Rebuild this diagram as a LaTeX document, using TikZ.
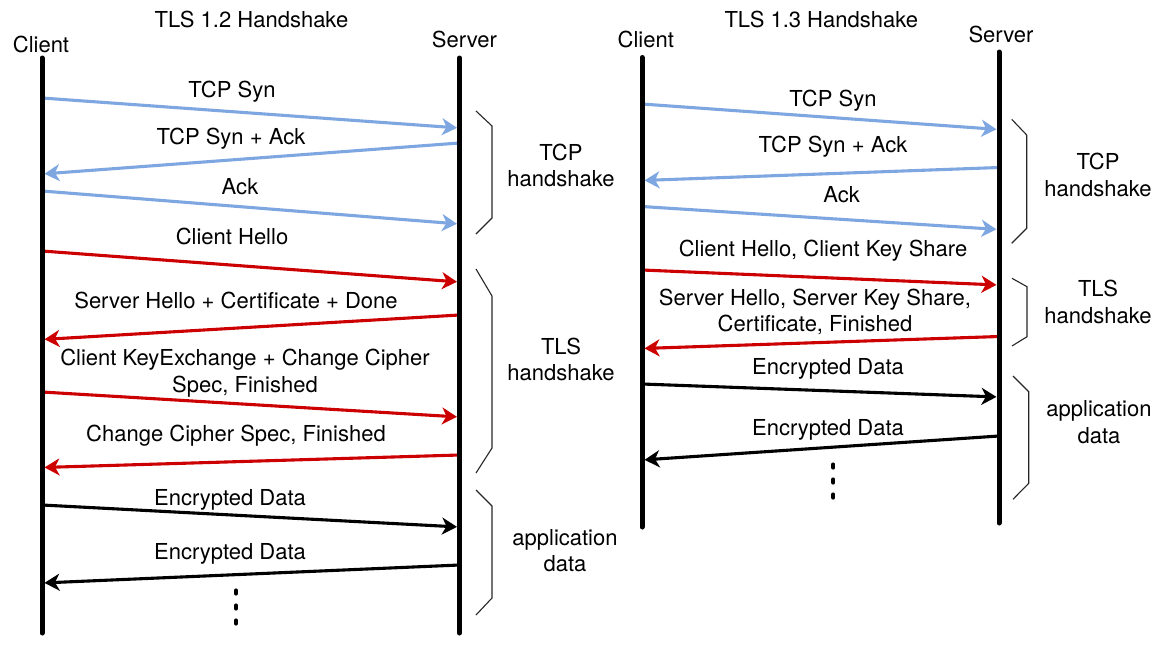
\documentclass[tikz,border=0pt]{standalone}
\usepackage{fontspec}
\setmainfont{TeX Gyre Heros}
\usetikzlibrary{arrows.meta}
\definecolor{tcpblue}{HTML}{7EA6E0}
\definecolor{tlsred}{HTML}{CC0000}
\begin{document}
\begin{tikzpicture}[x=1pt,y=-1pt,
  lifeline/.style={line width=5pt, line cap=round},
  msg/.style={line width=3.1pt, -{Stealth[length=15pt,width=17pt,inset=4.5pt]}, shorten >=2.5pt},
  tcpmsg/.style={msg, draw=tcpblue},
  tlsmsg/.style={msg, draw=tlsred},
  datamsg/.style={msg, draw=black},
  lbl/.style={font=\fontsize{22}{26.7}\selectfont, inner sep=0pt, anchor=base, align=center},
  bracepath/.style={line width=1.1pt, draw=black!85},
  dotline/.style={line width=4.2pt, line cap=round, dash pattern=on 3pt off 12pt}
]
\useasboundingbox (0,0) rectangle (1171,654);

% ---------------- TLS 1.2 ----------------
\node[lbl] (t12) at (251.5,27) {TLS 1.2 Handshake};
\node[lbl] (c12) at (41,52) {Client};
\node[lbl] (s12) at (464.5,47) {Server};
\coordinate (c12top) at (42,58);   \coordinate (c12bot) at (42,633);
\coordinate (s12top) at (459.5,58);\coordinate (s12bot) at (459.5,633);

\coordinate (a1c) at (42,98);    \coordinate (a1s) at (459.5,128);
\coordinate (a2s) at (459.5,143);\coordinate (a2c) at (42,174);
\coordinate (a3c) at (42,191);   \coordinate (a3s) at (459.5,224);
\coordinate (a4c) at (42,251);   \coordinate (a4s) at (459.5,282);
\coordinate (a5s) at (459.5,315);\coordinate (a5c) at (42,339.5);
\coordinate (a6c) at (42,392);   \coordinate (a6s) at (459.5,417);
\coordinate (a7s) at (459.5,455);\coordinate (a7c) at (42,467.5);
\coordinate (a8c) at (42,505);   \coordinate (a8s) at (459.5,527);
\coordinate (a9s) at (459.5,565);\coordinate (a9c) at (42,583);

\draw[tcpmsg] (a1c) -- (a1s);
\draw[tcpmsg] (a2s) -- (a2c);
\draw[tcpmsg] (a3c) -- (a3s);
\draw[tlsmsg] (a4c) -- (a4s);
\draw[tlsmsg] (a5s) -- (a5c);
\draw[tlsmsg] (a6c) -- (a6s);
\draw[tlsmsg] (a7s) -- (a7c);
\draw[datamsg] (a8c) -- (a8s);
\draw[datamsg] (a9s) -- (a9c);

\node[lbl] (l1) at (232,97.5) {TCP Syn};
\node[lbl] (l2) at (231,144) {TCP Syn + Ack};
\node[lbl] (l3) at (240,194) {Ack};
\node[lbl] (l4) at (232,244.5) {Client Hello};
\node[lbl] (l5) at (236,308) {Server Hello + Certificate + Done};
\node[lbl] (l6) at (245,392) {Client KeyExchange + Change Cipher\\Spec, Finished};
\node[lbl] (l7) at (236,441.5) {Change Cipher Spec, Finished};
\node[lbl] (l8) at (230,505) {Encrypted Data};
\node[lbl] (l9) at (230,559) {Encrypted Data};

\draw[bracepath] (476,111) -- (492,126) -- (492,218) -- (476,234);
\draw[bracepath] (476,269) -- (492,296) -- (492,448) -- (476,473);
\draw[bracepath] (476,490) -- (492,506) -- (492,598) -- (476,615);
\node[lbl] (g1) at (561,186.7) {TCP\\handshake};
\node[lbl] (g2) at (561,380.7) {TLS\\handshake};
\node[lbl] (g3) at (565,571.7) {application\\data};

\coordinate (d12a) at (236,590.5); \coordinate (d12b) at (236,623.5);
\draw[dotline] (d12a) -- (d12b);

\draw[lifeline] (c12top) -- (c12bot);
\draw[lifeline] (s12top) -- (s12bot);

% ---------------- TLS 1.3 ----------------
\node[lbl] (t13) at (821.3,27) {TLS 1.3 Handshake};
\node[lbl] (c13) at (645.8,47) {Client};
\node[lbl] (s13) at (1001,42) {Server};
\coordinate (c13top) at (642,57.5); \coordinate (c13bot) at (642,527);
\coordinate (s13top) at (999,52);   \coordinate (s13bot) at (999,523);

\coordinate (b1c) at (642,104);   \coordinate (b1s) at (999,129.5);
\coordinate (b2s) at (999,167.5); \coordinate (b2c) at (642,180.5);
\coordinate (b3c) at (642,206.5); \coordinate (b3s) at (999,229.5);
\coordinate (b4c) at (642,270);   \coordinate (b4s) at (999,285);
\coordinate (b5s) at (999,336.5); \coordinate (b5c) at (642,348.5);
\coordinate (b6c) at (642,384);   \coordinate (b6s) at (999,397);
\coordinate (b7s) at (999,436);   \coordinate (b7c) at (642,460);

\draw[tcpmsg] (b1c) -- (b1s);
\draw[tcpmsg] (b2s) -- (b2c);
\draw[tcpmsg] (b3c) -- (b3s);
\draw[tlsmsg] (b4c) -- (b4s);
\draw[tlsmsg] (b5s) -- (b5c);
\draw[datamsg] (b6c) -- (b6s);
\draw[datamsg] (b7s) -- (b7c);

\node[lbl] (m1) at (833,106.7) {TCP Syn};
\node[lbl] (m2) at (833,152.7) {TCP Syn + Ack};
\node[lbl] (m3) at (841.7,202.7) {Ack};
\node[lbl] (m4) at (823,256.7) {Client Hello, Client Key Share};
\node[lbl] (m5) at (815,331.7) {Server Hello, Server Key Share,\\Certificate, Finished};
\node[lbl] (m6) at (828,374) {Encrypted Data};
\node[lbl] (m7) at (828,435.7) {Encrypted Data};

\draw[bracepath] (1011.7,119.3) -- (1026.7,135) -- (1026.7,228.3) -- (1011.7,243.3);
\draw[bracepath] (1012,278.3) -- (1027,286.7) -- (1027,336.7) -- (1012,346);
\draw[bracepath] (1013,376) -- (1028.7,391.7) -- (1028.7,483.3) -- (1013,499.3);
\node[lbl] (h1) at (1098,196) {TCP\\handshake};
\node[lbl] (h2) at (1098,323.3) {TLS\\handshake};
\node[lbl] (h3) at (1099,443.3) {application\\data};

\coordinate (d13a) at (833.3,464.5); \coordinate (d13b) at (833.3,497.5);
\draw[dotline] (d13a) -- (d13b);

\draw[lifeline] (c13top) -- (c13bot);
\draw[lifeline] (s13top) -- (s13bot);
\end{tikzpicture}
\end{document}
